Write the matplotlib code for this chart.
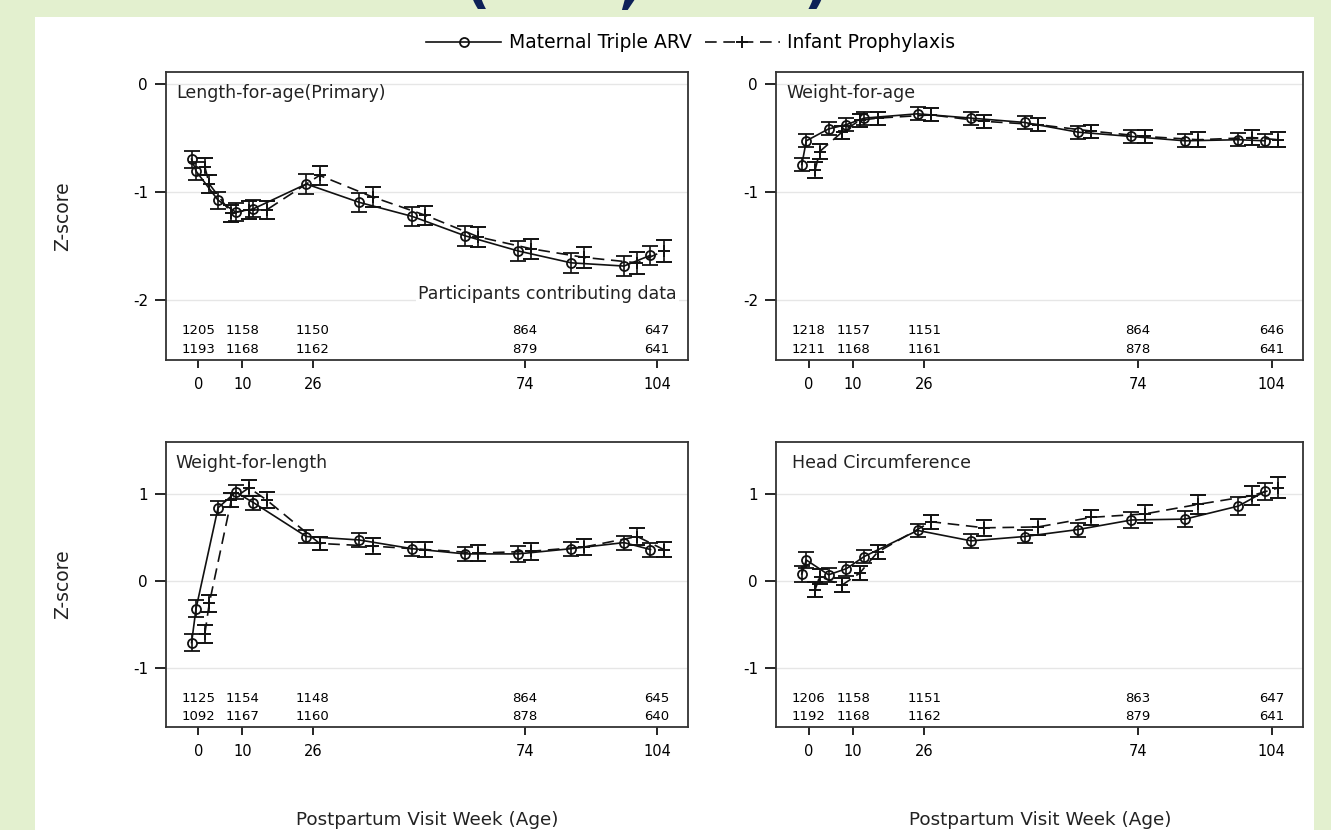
import matplotlib.pyplot as plt
from matplotlib.lines import Line2D
from matplotlib.patches import Rectangle
import matplotlib.transforms as mtransforms

plt.rcParams['font.family'] = ['DejaVu Sans']
plt.rcParams['axes.unicode_minus'] = False

# visit weeks and labelled ticks
weeks = [0, 1, 6, 10, 14, 26, 38, 50, 62, 74, 86, 98, 104]
tick_weeks = [0, 10, 26, 74, 104]

# Length-for-age (Primary)
lfa_mat = [-0.70, -0.81, -1.08, -1.19, -1.16, -0.93, -1.10, -1.23, -1.41, -1.55, -1.66, -1.69, -1.59]
lfa_inf = [-0.77, -0.93, -1.20, -1.17, -1.17, -0.85, -1.05, -1.22, -1.42, -1.53, -1.61, -1.66, -1.55]
lfa_mat_err = [0.08, 0.08, 0.08, 0.08, 0.08, 0.09, 0.09, 0.09, 0.09, 0.09, 0.09, 0.09, 0.09]
lfa_inf_err = [0.08, 0.08, 0.08, 0.08, 0.08, 0.09, 0.09, 0.09, 0.09, 0.09, 0.10, 0.10, 0.10]
lfa_n_mat = [1205, 1158, 1150, 864, 647]
lfa_n_inf = [1193, 1168, 1162, 879, 641]

# Weight-for-age
wfa_mat = [-0.75, -0.53, -0.42, -0.38, -0.32, -0.28, -0.32, -0.36, -0.45, -0.49, -0.53, -0.52, -0.53]
wfa_inf = [-0.80, -0.63, -0.45, -0.34, -0.32, -0.29, -0.35, -0.38, -0.44, -0.49, -0.52, -0.50, -0.52]
wfa_mat_err = [0.06, 0.06, 0.06, 0.06, 0.06, 0.06, 0.06, 0.06, 0.06, 0.06, 0.06, 0.06, 0.06]
wfa_inf_err = [0.07, 0.07, 0.06, 0.06, 0.06, 0.06, 0.06, 0.06, 0.06, 0.06, 0.07, 0.07, 0.07]
wfa_n_mat = [1218, 1157, 1151, 864, 646]
wfa_n_inf = [1211, 1168, 1161, 878, 641]

# Weight-for-length
wfl_mat = [-0.71, -0.32, 0.84, 1.02, 0.90, 0.51, 0.47, 0.37, 0.31, 0.31, 0.37, 0.44, 0.36]
wfl_inf = [-0.61, -0.26, 0.93, 1.07, 0.93, 0.43, 0.40, 0.36, 0.32, 0.34, 0.39, 0.51, 0.36]
wfl_mat_err = [0.10, 0.10, 0.08, 0.08, 0.08, 0.08, 0.08, 0.08, 0.08, 0.09, 0.08, 0.08, 0.08]
wfl_inf_err = [0.10, 0.10, 0.08, 0.09, 0.09, 0.08, 0.09, 0.09, 0.09, 0.10, 0.09, 0.10, 0.09]
wfl_n_mat = [1125, 1154, 1148, 864, 645]
wfl_n_inf = [1092, 1167, 1160, 878, 640]

# Head Circumference
hc_mat = [0.08, 0.24, 0.07, 0.14, 0.28, 0.58, 0.46, 0.51, 0.59, 0.70, 0.71, 0.86, 1.03]
hc_inf = [-0.10, 0.05, -0.05, 0.09, 0.33, 0.68, 0.61, 0.62, 0.73, 0.77, 0.88, 0.98, 1.07]
hc_mat_err = [0.09, 0.09, 0.08, 0.08, 0.08, 0.07, 0.08, 0.08, 0.08, 0.09, 0.09, 0.10, 0.10]
hc_inf_err = [0.09, 0.09, 0.08, 0.08, 0.08, 0.08, 0.09, 0.09, 0.09, 0.10, 0.11, 0.11, 0.12]
hc_n_mat = [1206, 1158, 1151, 863, 647]
hc_n_inf = [1192, 1168, 1162, 879, 641]

panels = [
    ('Length-for-age(Primary)', lfa_mat, lfa_inf, lfa_mat_err, lfa_inf_err, lfa_n_mat, lfa_n_inf),
    ('Weight-for-age', wfa_mat, wfa_inf, wfa_mat_err, wfa_inf_err, wfa_n_mat, wfa_n_inf),
    ('Weight-for-length', wfl_mat, wfl_inf, wfl_mat_err, wfl_inf_err, wfl_n_mat, wfl_n_inf),
    ('Head Circumference', hc_mat, hc_inf, hc_mat_err, hc_inf_err, hc_n_mat, hc_n_inf),
]

W, H = 1331, 830
fig = plt.figure(figsize=(W / 100, H / 100), dpi=100)
fig.patch.set_facecolor('#E3F0CF')
fig.add_artist(Rectangle((35 / W, 0), (1314 - 35) / W, 1 - 17 / H, transform=fig.transFigure,
                         facecolor='white', edgecolor='none', zorder=0))

# partial slide title, cut off at the top edge as in the original
navy = '#0E2258'
for xp, s in [(477, '('), (629, ','), (816, ')')]:
    fig.text(xp / W, 1 - 2 / H, s, ha='center', va='baseline', fontsize=40,
             fontweight='bold', color=navy)

def px_box(l, t, r, b):
    return [l / W, 1 - b / H, (r - l) / W, (b - t) / H]

boxes = [px_box(166, 71.7, 688, 360), px_box(776, 71.7, 1303, 360),
         px_box(166, 441.7, 688, 727), px_box(776, 441.7, 1303, 727)]
ylims = [(-2.56, 0.11), (-2.56, 0.11), (-1.68, 1.60), (-1.68, 1.60)]
yticks = [[-2, -1, 0], [-2, -1, 0], [-1, 0, 1], [-1, 0, 1]]
title_x = [0.019, 0.019, 0.019, 0.030]

off = 1.5  # horizontal dodge between the two arms
for i, (title, mat, inf, mat_e, inf_e, n_mat, n_inf) in enumerate(panels):
    ax = fig.add_axes(boxes[i])
    ax.set_xlim(-7.3, 111.0)
    ax.set_ylim(*ylims[i])
    ax.set_yticks(yticks[i])
    ax.set_yticklabels([str(t) for t in yticks[i]])
    ax.set_xticks(tick_weeks)
    ax.set_xticklabels([str(t) for t in tick_weeks])
    for yt in yticks[i]:
        ax.axhline(yt, color='#E6E6E6', lw=1.0, zorder=0)

    xm = [w - off for w in weeks]
    xi = [w + off for w in weeks]
    ax.errorbar(xm, mat, yerr=mat_e, color='#111111', lw=1.2, marker='o', ms=6.5,
                mfc='none', mec='#111111', mew=1.3, capsize=5.5, capthick=1.2,
                elinewidth=1.2, zorder=3)
    ax.errorbar(xi, inf, yerr=inf_e, color='#111111', lw=1.2, ls=(0, (7, 4)),
                marker='+', ms=9, mew=1.4, capsize=5.5, capthick=1.2,
                elinewidth=1.2, zorder=3)

    ax.text(title_x[i], 0.925, title, transform=ax.transAxes, ha='left', va='center',
            fontsize=12.5, color='#222222')

    trans = mtransforms.blended_transform_factory(ax.transData, ax.transAxes)
    for w, a, b in zip(tick_weeks, n_mat, n_inf):
        ax.text(w, 0.101, str(a), transform=trans, ha='center', va='center', fontsize=9.5)
        ax.text(w, 0.038, str(b), transform=trans, ha='center', va='center', fontsize=9.5)

    if i == 0:
        ax.text(0.979, 0.229, 'Participants contributing data', transform=ax.transAxes,
                ha='right', va='center', fontsize=12.5, color='#222222',
                bbox=dict(facecolor='white', edgecolor='none', pad=1.5), zorder=2)

    for sp in ax.spines.values():
        sp.set_linewidth(1.3)
        sp.set_color('#333333')
    ax.tick_params(axis='y', direction='out', length=8, width=1.2, labelsize=11, pad=5)
    ax.tick_params(axis='x', direction='out', length=6, width=1.2, labelsize=10.5, pad=6)

# axis titles
for yc in [216, 584]:
    fig.text(63 / W, 1 - yc / H, 'Z-score', rotation=90, ha='center', va='center',
             fontsize=13.5, color='#222222')
for xc in [427, 1040]:
    fig.text(xc / W, 1 - 820 / H, 'Postpartum Visit Week (Age)', ha='center', va='center',
             fontsize=13.2, color='#222222')

# legend
handles = [Line2D([], [], color='#111111', lw=1.2, marker='o', ms=6.5, mfc='none',
                  mec='#111111', mew=1.3),
           Line2D([], [], color='#111111', lw=1.2, ls=(0, (7, 4)), marker='+', ms=9, mew=1.4)]
fig.legend(handles, ['Maternal Triple ARV', 'Infant Prophylaxis'], loc='center',
           bbox_to_anchor=(691 / W, 1 - 43 / H), ncol=2, frameon=False, fontsize=13.5,
           handlelength=4.0, handletextpad=0.4, columnspacing=0.7)

fig.savefig('out.png', dpi=100, facecolor=fig.get_facecolor())
